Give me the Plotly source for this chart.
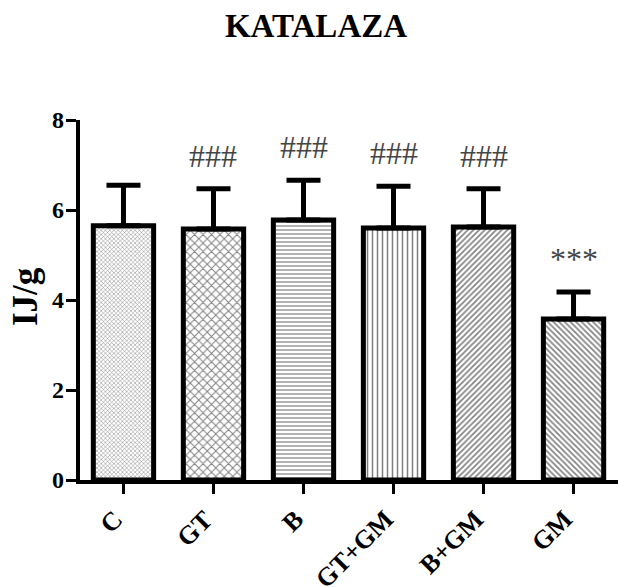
import plotly.graph_objects as go

groups = ["C", "GT", "B", "GT+GM", "B+GM", "GM"]
means = [5.65, 5.58, 5.78, 5.60, 5.62, 3.58]
sds = [0.90, 0.89, 0.88, 0.93, 0.85, 0.60]
marks = ["", "###", "###", "###", "###", "***"]
y_ticks = [0, 2, 4, 6, 8]

patterns = [
    dict(shape="x", size=3, solidity=0.3),
    dict(shape="x", size=6, solidity=0.3),
    dict(shape="-", size=4, solidity=0.3),
    dict(shape="|", size=5, solidity=0.3),
    dict(shape="/", size=4, solidity=0.4),
    dict(shape="\\", size=4, solidity=0.4),
]

FONT = "Liberation Serif"

fig = go.Figure()
for g, m, s, p in zip(groups, means, sds, patterns):
    fig.add_trace(go.Bar(
        x=[g], y=[m], width=0.67,
        marker=dict(color="white",
                    line=dict(color="black", width=5),
                    pattern=dict(fgcolor="black", bgcolor="white", fillmode="overlay", **p)),
        error_y=dict(type="data", symmetric=False, array=[s], arrayminus=[0],
                     color="black", thickness=5, width=17),
        showlegend=False,
    ))

# significance marks
for g, m, s, t in zip(groups, means, sds, marks):
    if t:
        fig.add_annotation(x=g, y=m + s, text=t, showarrow=False, yanchor="bottom", yshift=13,
                           font=dict(family=FONT, size=32, color="#444444"))

# category labels (rotated) placed on the x scale
for g in groups:
    fig.add_annotation(x=g, y=0, xref="x", yref="y", text=f"<b>{g}</b>", textangle=-45,
                       showarrow=False, xanchor="right", yanchor="top", xshift=8, yshift=-22,
                       font=dict(family=FONT, size=26, color="black"))

# y tick labels placed on the y scale
for v in y_ticks:
    fig.add_annotation(x=0, y=v, xref="paper", yref="y", text=f"<b>{v}</b>",
                       showarrow=False, xanchor="right", yanchor="middle", xshift=-14,
                       font=dict(family=FONT, size=24, color="black"))

fig.add_annotation(xref="paper", yref="paper", x=(25 - 80) / 538, y=(480 - 297) / 360,
                   xanchor="center", yanchor="middle",
                   text="<b>IJ/g</b>", textangle=-90, showarrow=False,
                   font=dict(family=FONT, size=35, color="black"))

fig.update_layout(
    width=618, height=587,
    margin=dict(l=80, r=0, t=120, b=107),
    paper_bgcolor="white", plot_bgcolor="white",
    title=dict(text="<b>KATALAZA</b>", x=316 / 618, y=1 - 25 / 587, xanchor="center", yanchor="middle",
               font=dict(family=FONT, size=33, color="black")),
)
fig.update_xaxes(range=[-0.483, 5.494], showline=True, linewidth=4, linecolor="black",
                 ticks="outside", ticklen=10, tickwidth=3, tickcolor="black",
                 showgrid=False, zeroline=False, tickvals=groups, showticklabels=False)
fig.update_yaxes(range=[0, 8], showline=True, linewidth=4, linecolor="black",
                 ticks="outside", ticklen=10, tickwidth=3, tickcolor="black",
                 showgrid=False, zeroline=False, tickvals=y_ticks, showticklabels=False)

fig.write_html("out.html")
